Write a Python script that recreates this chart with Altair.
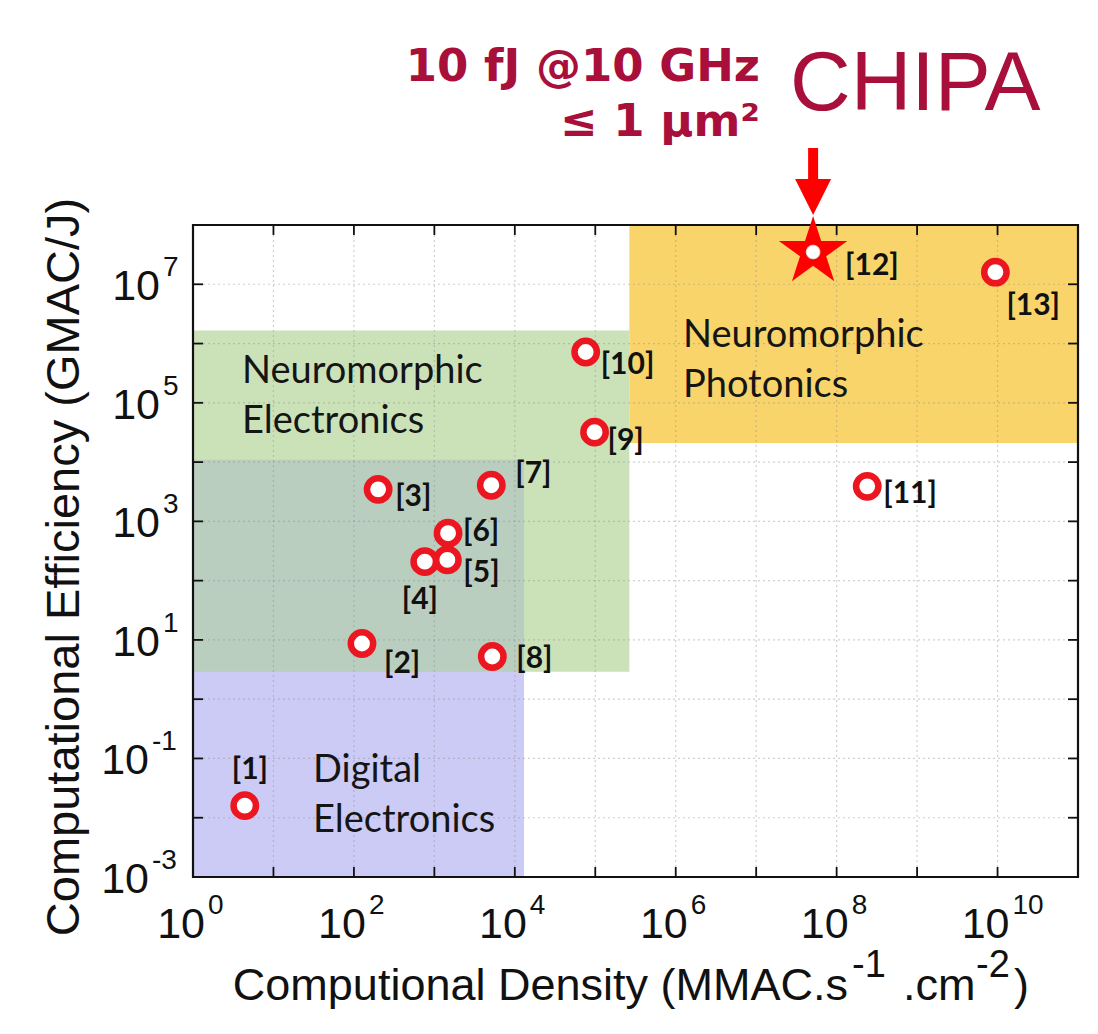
import altair as alt
import pandas as pd

# ---------------- data ----------------
refs = ["[1]", "[2]", "[3]", "[4]", "[5]", "[6]", "[7]", "[8]", "[9]", "[10]", "[11]", "[13]"]
density = [4.4, 126, 200, 760, 1450, 1480, 5100, 5250, 9.8e4, 7.6e4, 2.4e8, 9.4e9]
efficiency = [0.016, 8.7, 3470, 209, 224, 631, 4070, 5.25, 3.2e4, 7.2e5, 3900, 1.6e7]

target_ref = ["[12]"]
target_density = [5.1e7]
target_efficiency = [3.5e7]

region_names = ["Neuromorphic Electronics", "Digital Electronics", "Overlap", "Neuromorphic Photonics"]
region_x0 = [1, 1, 1, 2.65e5]
region_x1 = [2.65e5, 1.3e4, 1.3e4, 1e11]
region_y0 = [2.9, 1e-3, 2.9, 2.1e4]
region_y1 = [1.66e6, 1.1e4, 1.1e4, 1e8]

x_tick_exp = [0, 2, 4, 6, 8, 10]
y_tick_exp = [-3, -1, 1, 3, 5, 7]

# ---------------- layout / style ----------------
W, H = 885, 652
RED = "#ec1620"
CRIMSON = "#a80f3a"
region_palette = ["#cbe2b9", "#cbcbf6", "#b9cebf", "#f9d46b"]
STAR = ("M0,-1L0.2245,-0.309L0.951,-0.309L0.363,0.118L0.588,0.809L0,0.382"
        "L-0.588,0.809L-0.363,0.118L-0.951,-0.309L-0.2245,-0.309Z")
HEAD = "M-1,-1L1,-1L0,1Z"
label_nudge = {"[1]": (-13, -27), "[2]": (22, 30), "[3]": (17, 17), "[4]": (-23, 47),
               "[5]": (16, 22), "[6]": (15, 8), "[7]": (24, -2), "[8]": (24, 12),
               "[9]": (13, 18), "[10]": (15, 22), "[11]": (16, 17), "[12]": (32, 23),
               "[13]": (11, 43)}

xs = alt.Scale(type="log", domain=[1, 1e11], nice=False)
ys = alt.Scale(type="log", domain=[1e-3, 1e8], nice=False)

pts = pd.DataFrame({"ref": refs, "d": density, "e": efficiency})
tgt = pd.DataFrame({"ref": target_ref, "d": target_density, "e": target_efficiency})
allpts = pd.concat([pts, tgt], ignore_index=True)
regions = pd.DataFrame({"name": region_names, "x0": region_x0, "x1": region_x1,
                        "y0": region_y0, "y1": region_y1})
one = pd.DataFrame({"k": [0]})
xdec = pd.DataFrame({"v": [10.0 ** k for k in range(1, 11)]})
ydec = pd.DataFrame({"v": [10.0 ** k for k in range(-2, 8)]})
xlab = pd.DataFrame({"v": [10.0 ** e for e in x_tick_exp], "t": [str(e) for e in x_tick_exp]})
ylab = pd.DataFrame({"v": [10.0 ** e for e in y_tick_exp], "t": [str(e) for e in y_tick_exp]})

X = lambda f: alt.X(f, scale=xs, axis=None)
Y = lambda f: alt.Y(f, scale=ys, axis=None)

# shaded regions
region_layer = alt.Chart(regions).mark_rect().encode(
    x=X("x0:Q"), x2="x1:Q", y=Y("y0:Q"), y2="y1:Q",
    color=alt.Color("name:N", scale=alt.Scale(domain=region_names, range=region_palette), legend=None),
)

# dotted grid
grid_style = dict(color="#8a8a8a", strokeDash=[2, 3], strokeWidth=1.2, opacity=0.4)
grid_x = alt.Chart(xdec).mark_rule(**grid_style).encode(x=X("v:Q"), y=alt.value(0), y2=alt.value(H))
grid_y = alt.Chart(ydec).mark_rule(**grid_style).encode(y=Y("v:Q"), x=alt.value(0), x2=alt.value(W))

# region captions
cap_style = dict(align="left", baseline="alphabetic", font="Lato", fontSize=38,
                 lineBreak="\n", lineHeight=50, color="#151515")
cap_ne = alt.Chart(one).mark_text(text="Neuromorphic\nElectronics", **cap_style).encode(
    x=alt.value(49), y=alt.value(158))
cap_np = alt.Chart(one).mark_text(text="Neuromorphic\nPhotonics", **cap_style).encode(
    x=alt.value(490), y=alt.value(122))
cap_de = alt.Chart(one).mark_text(text="Digital\nElectronics", **cap_style).encode(
    x=alt.value(120), y=alt.value(557))

# inward ticks on all four sides and the frame
tick_style = dict(color="#111", strokeWidth=1.8)
tk_b = alt.Chart(xdec).mark_rule(**tick_style).encode(x=X("v:Q"), y=alt.value(H), y2=alt.value(H - 10))
tk_t = alt.Chart(xdec).mark_rule(**tick_style).encode(x=X("v:Q"), y=alt.value(0), y2=alt.value(10))
tk_l = alt.Chart(ydec).mark_rule(**tick_style).encode(y=Y("v:Q"), x=alt.value(0), x2=alt.value(10))
tk_r = alt.Chart(ydec).mark_rule(**tick_style).encode(y=Y("v:Q"), x=alt.value(W - 10), x2=alt.value(W))
frame = alt.Chart(one).mark_rect(filled=False, stroke="#111", strokeWidth=2.2).encode(
    x=alt.value(0), x2=alt.value(W), y=alt.value(0), y2=alt.value(H))

# reported devices
rings = alt.Chart(pts).mark_point(shape="circle", filled=True, fill="white", stroke=RED,
                                  strokeWidth=6.5, size=500, opacity=1, fillOpacity=1,
                                  strokeOpacity=1).encode(x=X("d:Q"), y=Y("e:Q"))

# target device: star with a white centre
star = alt.Chart(tgt).mark_point(shape=STAR, filled=True, color="#ff0000", size=5184,
                                 opacity=1).encode(x=X("d:Q"), y=Y("e:Q"))
star_dot = alt.Chart(tgt).mark_point(shape="circle", filled=True, fill="white", stroke="#d9d9d9",
                                     strokeWidth=1, size=190, opacity=1).encode(x=X("d:Q"), y=Y("e:Q"))

# reference labels
label_layers = []
for r in allpts["ref"]:
    dx, dy = label_nudge[r]
    label_layers.append(
        alt.Chart(allpts).transform_filter(alt.datum.ref == r).mark_text(
            align="left", baseline="alphabetic", dx=dx, dy=dy, font="Lato",
            fontWeight="bold", fontSize=30, color="#111",
        ).encode(x=X("d:Q"), y=Y("e:Q"), text="ref:N")
    )

# tick labels as base "10" with raised exponent
lab_font = "Liberation Sans"
xb = alt.Chart(xlab).mark_text(text="10", align="right", baseline="alphabetic", dx=12,
                              font=lab_font, fontSize=43, color="#111").encode(
    x=X("v:Q"), y=alt.value(H + 61))
xe = alt.Chart(xlab).mark_text(align="left", baseline="alphabetic", dx=15,
                              font=lab_font, fontSize=28, color="#111").encode(
    x=X("v:Q"), y=alt.value(H + 37), text="t:N")
ypos = alt.Chart(ylab).transform_filter(alt.datum.v > 1)
yneg = alt.Chart(ylab).transform_filter(alt.datum.v < 1)
yb1 = ypos.mark_text(text="10", align="right", baseline="alphabetic", dy=16,
                     font=lab_font, fontSize=43, color="#111").encode(y=Y("v:Q"), x=alt.value(-33))
ye1 = ypos.mark_text(align="left", baseline="alphabetic", dy=-8,
                     font=lab_font, fontSize=28, color="#111").encode(y=Y("v:Q"), x=alt.value(-30), text="t:N")
yb2 = yneg.mark_text(text="10", align="right", baseline="alphabetic", dy=16,
                     font=lab_font, fontSize=43, color="#111").encode(y=Y("v:Q"), x=alt.value(-44))
ye2 = yneg.mark_text(align="left", baseline="alphabetic", dy=-8,
                     font=lab_font, fontSize=28, color="#111").encode(y=Y("v:Q"), x=alt.value(-41), text="t:N")

# axis titles
ttl = dict(font=lab_font, color="#111", baseline="alphabetic")
y_title = alt.Chart(one).mark_text(text="Computational Efficiency (GMAC/J)", angle=270,
                                   align="center", baseline="middle", font=lab_font,
                                   fontSize=47, color="#111").encode(
    x=alt.value(-128), y=alt.value(342))
xt1 = alt.Chart(one).mark_text(text="Computional Density (MMAC.s", align="right", fontSize=45, **ttl).encode(
    x=alt.value(655), y=alt.value(775))
xt2 = alt.Chart(one).mark_text(text="-1", align="left", fontSize=38, **ttl).encode(
    x=alt.value(659), y=alt.value(752))
xt3 = alt.Chart(one).mark_text(text=".cm", align="left", fontSize=45, **ttl).encode(
    x=alt.value(710), y=alt.value(775))
xt4 = alt.Chart(one).mark_text(text="-2", align="left", fontSize=38, **ttl).encode(
    x=alt.value(783), y=alt.value(752))
xt5 = alt.Chart(one).mark_text(text=")", align="left", fontSize=45, **ttl).encode(
    x=alt.value(821), y=alt.value(775))

# headline, logo and arrow pointing at the target
head_style = dict(align="right", baseline="alphabetic", font="DejaVu Sans", fontWeight="bold",
                  fontSize=45, color=CRIMSON)
hl1 = alt.Chart(one).mark_text(text="10 fJ @10 GHz", **head_style).encode(x=alt.value(567), y=alt.value(-144))
hl2 = alt.Chart(one).mark_text(text="≤ 1 μm²", **head_style).encode(x=alt.value(567), y=alt.value(-89))
logo = alt.Chart(one).mark_text(text="CHIPA", align="left", baseline="alphabetic", font=lab_font,
                                fontSize=84, color=CRIMSON).encode(x=alt.value(597), y=alt.value(-115))
shaft = alt.Chart(tgt).mark_rule(color="#ff0000", strokeWidth=10).encode(
    x=X("d:Q"), y=alt.value(-77), y2=alt.value(-42))
head = alt.Chart(tgt).mark_point(shape=HEAD, filled=True, color="#ff0000", size=1296, opacity=1).encode(
    x=X("d:Q"), y=alt.value(-28))

chart = alt.layer(
    region_layer, grid_x, grid_y, cap_ne, cap_np, cap_de,
    tk_b, tk_t, tk_l, tk_r, frame,
    rings, star, star_dot, *label_layers,
    xb, xe, yb1, ye1, yb2, ye2,
    y_title, xt1, xt2, xt3, xt4, xt5,
    hl1, hl2, logo, shaft, head,
).properties(
    width=W, height=H,
    autosize=alt.AutoSizeParams(type="none"),
    padding={"left": 193, "top": 225, "right": 20, "bottom": 157},
    background="white",
).configure_view(stroke=None)

chart.save("out.html", embed_options={"renderer": "svg", "actions": False})
